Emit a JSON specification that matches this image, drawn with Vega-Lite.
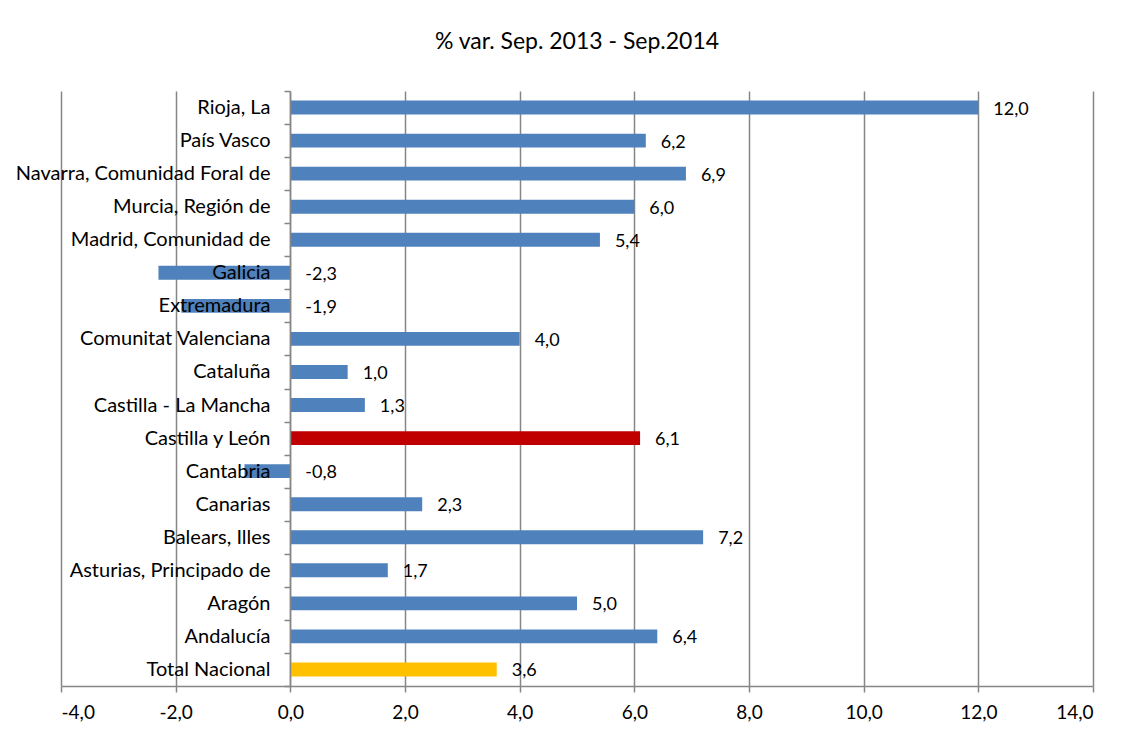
{
  "$schema": "https://vega.github.io/schema/vega-lite/v6.json",
  "width": 1032,
  "height": 595,
  "autosize": {"type": "none"},
  "padding": {"left": 61, "top": 91, "right": 36, "bottom": 52},
  "background": "white",
  "title": {"text": "% var. Sep. 2013 - Sep.2014", "font": "Lato", "fontSize": 23, "fontWeight": "normal", "color": "black", "offset": 27, "anchor": "middle"},
  "config": {
    "view": {"stroke": null},
    "font": "Lato",
    "locale": {"number": {"decimal": ",", "thousands": ".", "grouping": [3], "currency": ["", " €"], "minus": "-"}}
  },
  "data": {"values": [
    {"region": "Rioja, La", "value": 12.0, "kind": "region"},
    {"region": "País Vasco", "value": 6.2, "kind": "region"},
    {"region": "Navarra, Comunidad Foral de", "value": 6.9, "kind": "region"},
    {"region": "Murcia, Región de", "value": 6.0, "kind": "region"},
    {"region": "Madrid, Comunidad de", "value": 5.4, "kind": "region"},
    {"region": "Galicia", "value": -2.3, "kind": "region"},
    {"region": "Extremadura", "value": -1.9, "kind": "region"},
    {"region": "Comunitat Valenciana", "value": 4.0, "kind": "region"},
    {"region": "Cataluña", "value": 1.0, "kind": "region"},
    {"region": "Castilla - La Mancha", "value": 1.3, "kind": "region"},
    {"region": "Castilla y León", "value": 6.1, "kind": "highlight"},
    {"region": "Cantabria", "value": -0.8, "kind": "region"},
    {"region": "Canarias", "value": 2.3, "kind": "region"},
    {"region": "Balears, Illes", "value": 7.2, "kind": "region"},
    {"region": "Asturias, Principado de", "value": 1.7, "kind": "region"},
    {"region": "Aragón", "value": 5.0, "kind": "region"},
    {"region": "Andalucía", "value": 6.4, "kind": "region"},
    {"region": "Total Nacional", "value": 3.6, "kind": "total"}
  ]},
  "encoding": {
    "y": {
      "field": "region", "type": "nominal", "sort": null,
      "scale": {"paddingInner": 0, "paddingOuter": 0},
      "axis": {
        "title": null, "offset": -229, "zindex": 1,
        "domain": true, "domainColor": "#868686", "domainWidth": 1.5,
        "ticks": true, "tickBand": "extent", "tickSize": 6, "tickColor": "#868686", "tickWidth": 1.5,
        "labelFont": "Lato", "labelFontSize": 20, "labelColor": "black", "labelPadding": 14, "labelLimit": 0,
        "grid": false
      }
    }
  },
  "layer": [
    {
      "mark": {"type": "bar", "height": {"band": 0.42}},
      "encoding": {
        "x": {
          "field": "value", "type": "quantitative",
          "scale": {"domain": [-4, 14], "nice": false, "zero": false},
          "axis": {
            "title": null, "values": [-4, -2, 0, 2, 4, 6, 8, 10, 12, 14], "format": ".1f",
            "grid": true, "gridColor": "#868686", "gridWidth": 1.5,
            "domainColor": "#868686", "domainWidth": 1.5,
            "tickColor": "#868686", "tickSize": 6, "tickWidth": 1.5,
            "labelFont": "Lato", "labelFontSize": 19, "labelColor": "black", "labelPadding": 11
          }
        },
        "color": {
          "field": "kind", "type": "nominal", "legend": null,
          "scale": {"domain": ["region", "highlight", "total"], "range": ["#4F81BD", "#C00000", "#FFC000"]}
        }
      }
    },
    {
      "transform": [{"filter": "datum.value >= 0"}],
      "mark": {"type": "text", "align": "left", "baseline": "middle", "dx": 15, "dy": 2, "font": "Lato", "fontSize": 18, "color": "black"},
      "encoding": {
        "x": {"field": "value", "type": "quantitative"},
        "text": {"field": "value", "type": "quantitative", "format": ".1f"}
      }
    },
    {
      "transform": [{"filter": "datum.value < 0"}],
      "mark": {"type": "text", "align": "left", "baseline": "middle", "dx": 15, "dy": 2, "font": "Lato", "fontSize": 18, "color": "black"},
      "encoding": {
        "x": {"datum": 0, "type": "quantitative"},
        "text": {"field": "value", "type": "quantitative", "format": ".1f"}
      }
    }
  ]
}
